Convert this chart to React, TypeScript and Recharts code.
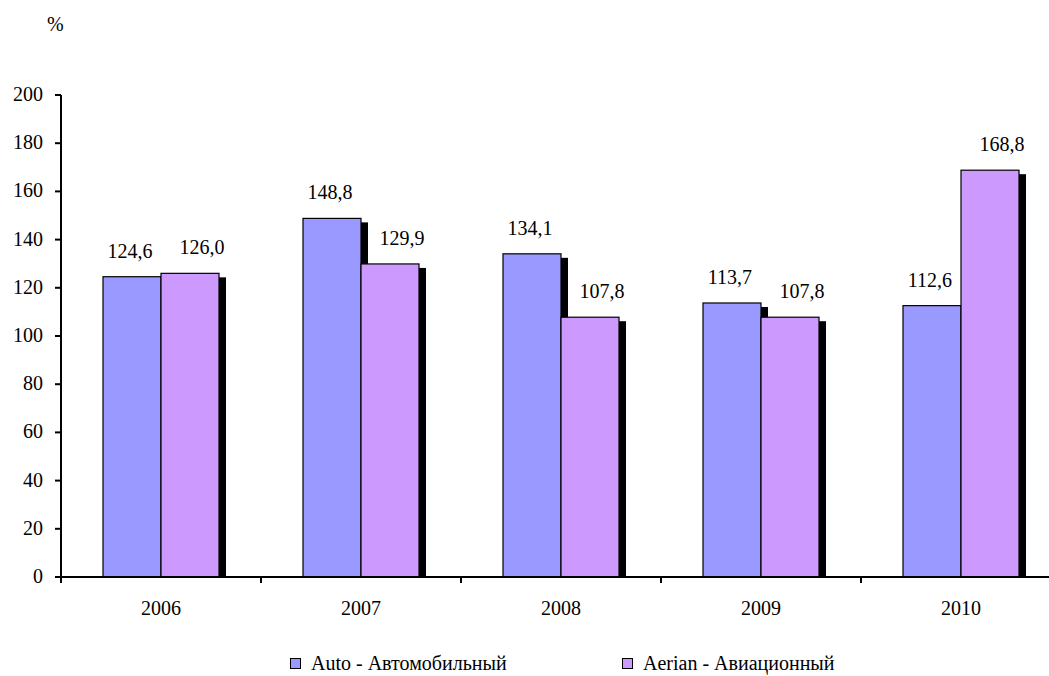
import { BarChart, Bar, XAxis, YAxis, LabelList } from 'recharts'

const years = ['2006', '2007', '2008', '2009', '2010']
const autoValues = [124.6, 148.8, 134.1, 113.7, 112.6]
const aerianValues = [126.0, 129.9, 107.8, 107.8, 168.8]
const yTicks = [0, 20, 40, 60, 80, 100, 120, 140, 160, 180, 200]

const seriesNames = { auto: 'Auto - Автомобильный', aerian: 'Aerian - Авиационный' }
const colors = { auto: '#9999ff', aerian: '#cc99ff' }

const data = years.map((year, i) => ({
  year,
  auto: autoValues[i],
  aerian: aerianValues[i],
}))

const FONT = '"Liberation Serif", serif'
const BAND = 200

const fmt = (v: number) => v.toFixed(1).replace('.', ',')

// bar with the black drop shadow Excel draws
function ShadowBar(props: any) {
  const { x, y, width, height, fill } = props
  if (height <= 0) return null
  return (
    <g>
      <rect x={x + 7} y={y + 4} width={width} height={height - 4} fill="#000" />
      <rect x={x} y={y} width={width} height={height} fill={fill} stroke="#000" strokeWidth={1.2} />
    </g>
  )
}

function makeLabel(dx: number) {
  return (props: any) => {
    const { x, y, width, value } = props
    return (
      <text x={x + width / 2 + dx} y={y - 19} textAnchor="middle" fontFamily={FONT} fontSize={20} fill="#000">
        {fmt(value)}
      </text>
    )
  }
}

function YearTick(props: any) {
  const { x, y, payload } = props
  return (
    <g>
      <line x1={x - BAND / 2} y1={y - 8} x2={x - BAND / 2} y2={y - 2} stroke="#000" strokeWidth={2} />
      <line x1={x + BAND / 2} y1={y - 8} x2={x + BAND / 2} y2={y - 2} stroke="#000" strokeWidth={2} />
      <text x={x} y={y + 30} textAnchor="middle" fontFamily={FONT} fontSize={20} fill="#000">
        {payload.value}
      </text>
    </g>
  )
}

function YTick(props: any) {
  const { x, y, payload } = props
  return (
    <text x={x} y={y + 6} textAnchor="end" fontFamily={FONT} fontSize={20} fill="#000">
      {payload.value}
    </text>
  )
}

// legend and unit label drawn as svg text, same as the chart texts
function Overlay() {
  const items = [
    { name: seriesNames.auto, color: colors.auto, left: 290 },
    { name: seriesNames.aerian, color: colors.aerian, left: 622 },
  ]
  return (
    <svg width={1049} height={676} style={{ position: 'absolute', left: 0, top: 0, pointerEvents: 'none' }}>
      <text x={47} y={31} fontFamily={FONT} fontSize={20} fill="#000">
        %
      </text>
      {items.map((it) => (
        <g key={it.name}>
          <rect x={it.left + 0.5} y={658.5} width={10} height={10} fill={it.color} stroke="#000" strokeWidth={1} />
          <text x={it.left + 21} y={670} fontFamily={FONT} fontSize={20} fill="#000">
            {it.name}
          </text>
        </g>
      ))}
    </svg>
  )
}

export default function App() {
  return (
    <div
      style={{
        position: 'absolute',
        left: 0,
        top: 0,
        width: 1049,
        height: 676,
        overflow: 'hidden',
        background: '#fff',
      }}
    >
      <BarChart
        width={1075}
        height={676}
        data={data}
        margin={{ top: 95, right: 14, bottom: 0, left: 0 }}
        barCategoryGap="21%"
        barGap={0}
      >
        <YAxis
          domain={[0, 200]}
          ticks={yTicks}
          interval={0}
          width={61}
          axisLine={{ stroke: '#000', strokeWidth: 2 }}
          tickLine={{ stroke: '#000', strokeWidth: 2 }}
          tickSize={6}
          tickMargin={12}
          tick={<YTick />}
        />
        <XAxis
          dataKey="year"
          height={99}
          axisLine={{ stroke: '#000', strokeWidth: 2 }}
          tickLine={false}
          tick={<YearTick />}
        />
        <Bar dataKey="auto" name={seriesNames.auto} fill={colors.auto} shape={<ShadowBar />} isAnimationActive={false}>
          <LabelList dataKey="auto" content={makeLabel(-2)} />
        </Bar>
        <Bar dataKey="aerian" name={seriesNames.aerian} fill={colors.aerian} shape={<ShadowBar />} isAnimationActive={false}>
          <LabelList dataKey="aerian" content={makeLabel(12)} />
        </Bar>
      </BarChart>
      <Overlay />
    </div>
  )
}
